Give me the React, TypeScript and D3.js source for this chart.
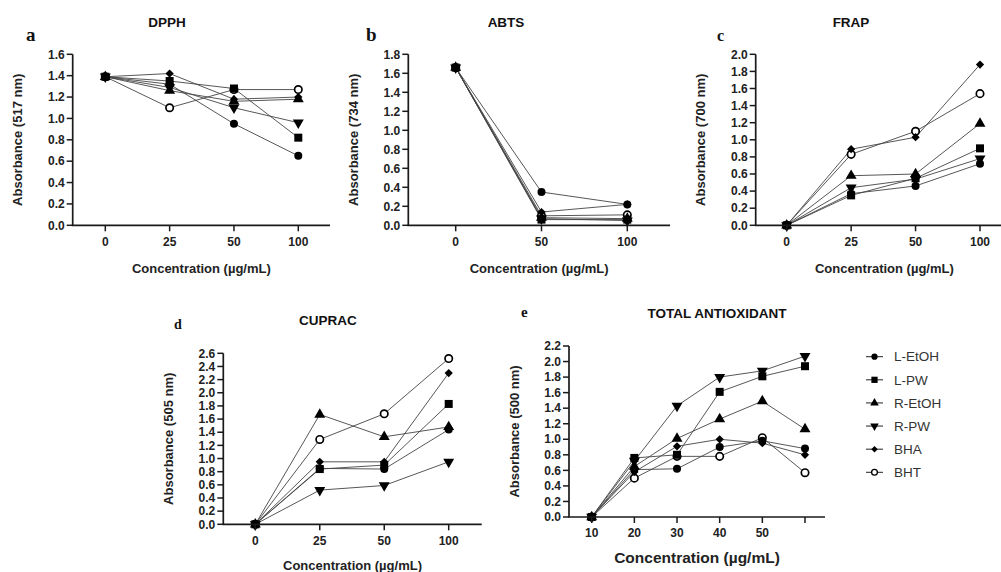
import React from "react";
import * as d3 from "d3";

// series, in the order used for every panel's value table
const seriesNames = ["L-EtOH", "L-PW", "R-EtOH", "R-PW", "BHA", "BHT"];
const seriesShapes = ["circle", "square", "triangle", "triangleDown", "diamond", "openCircle"];

// a: DPPH
const dpphConc = ["0", "25", "50", "100"];
const dpphValues = [
  [1.39, 1.32, 0.95, 0.65],
  [1.39, 1.35, 1.28, 0.82],
  [1.39, 1.26, 1.16, 1.18],
  [1.39, 1.29, 1.1, 0.96],
  [1.39, 1.42, 1.18, 1.2],
  [1.39, 1.1, 1.27, 1.27],
];

// b: ABTS
const abtsConc = ["0", "50", "100"];
const abtsValues = [
  [1.66, 0.35, 0.22],
  [1.66, 0.06, 0.06],
  [1.66, 0.08, 0.07],
  [1.66, 0.07, 0.05],
  [1.66, 0.14, 0.22],
  [1.66, 0.1, 0.11],
];

// c: FRAP
const frapConc = ["0", "25", "50", "100"];
const frapValues = [
  [0, 0.37, 0.46, 0.72],
  [0, 0.35, 0.55, 0.9],
  [0, 0.58, 0.6, 1.19],
  [0, 0.44, 0.54, 0.78],
  [0, 0.89, 1.03, 1.88],
  [0, 0.83, 1.1, 1.54],
];

// d: CUPRAC
const cupracConc = ["0", "25", "50", "100"];
const cupracValues = [
  [0, 0.85, 0.84, 1.44],
  [0, 0.84, 0.9, 1.83],
  [0, 1.67, 1.33, 1.48],
  [0, 0.52, 0.59, 0.95],
  [0, 0.95, 0.95, 2.3],
  [0, 1.29, 1.68, 2.52],
];

// e: total antioxidant (last point has no tick label)
const tacConc = ["10", "20", "30", "40", "50", "60"];
const tacTickLabels = ["10", "20", "30", "40", "50", ""];
const tacValues = [
  [0, 0.61, 0.62, 0.9, 0.98, 0.88],
  [0, 0.76, 0.8, 1.61, 1.81, 1.94],
  [0, 0.65, 1.01, 1.26, 1.49, 1.13],
  [0, 0.72, 1.43, 1.8, 1.88, 2.07],
  [0, 0.58, 0.91, 1.0, 0.95, 0.8],
  [0, 0.5, 0.78, 0.78, 1.02, 0.57],
];

const SANS = "'Liberation Sans', Arial, sans-serif";
const SERIF = "'Liberation Serif', 'Times New Roman', serif";

function Marker({ kind, x, y, k = 1 }) {
  if (kind === "circle") return <circle cx={x} cy={y} r={4 * k} fill="#000" />;
  if (kind === "openCircle")
    return <circle cx={x} cy={y} r={3.7 * k} fill="#fff" stroke="#000" strokeWidth={1.7 * k} />;
  if (kind === "square")
    return <rect x={x - 4 * k} y={y - 4 * k} width={8 * k} height={8 * k} fill="#000" />;
  if (kind === "diamond") {
    // square turned 45 degrees
    const path = d3.symbol(d3.symbolSquare, 34 * k * k)();
    return <path d={path} transform={`translate(${x},${y}) rotate(45)`} fill="#000" />;
  }
  const path = d3.symbol(d3.symbolTriangle, 52 * k * k)();
  const rot = kind === "triangleDown" ? 180 : 0;
  return <path d={path} transform={`translate(${x},${y}) rotate(${rot})`} fill="#000" />;
}

// markers drawn bottom-up so the filled square ends on top at shared points
const drawOrder = [5, 4, 3, 2, 0, 1];

function Panel({ p }) {
  const x = d3.scalePoint().domain(p.cats).range([p.firstX, p.lastX]);
  const y = d3.scaleLinear().domain([0, p.yMax]).range([p.bottom, p.top]);
  const yTicks = d3.range(0, p.yMax + 1e-6, 0.2);
  const line = d3
    .line()
    .x((d, i) => x(p.cats[i]))
    .y((d) => y(d));
  const midX = (p.left + p.right) / 2;
  const midY = (p.top + p.bottom) / 2;
  return (
    <g fontFamily={SANS}>
      <text x={p.titleX} y={p.titleY} textAnchor="middle" fontSize={13.5} fontWeight="bold" fill="#111">
        {p.title}
      </text>
      <text x={p.letterX} y={p.letterY} fontFamily={SERIF} fontSize={p.letterSize} fontWeight="bold" fill="#111">
        {p.letter}
      </text>
      {p.values.map((vals, s) => (
        <path key={s} d={line(vals)} fill="none" stroke="#444" strokeWidth={0.9} />
      ))}
      {drawOrder.map((s) =>
        p.values[s].map((v, i) => (
          <Marker key={s + "-" + i} kind={seriesShapes[s]} x={x(p.cats[i])} y={y(v)} />
        ))
      )}
      <line x1={p.left} x2={p.left} y1={p.top} y2={p.bottom} stroke="#1a1a1a" strokeWidth={1.7} />
      <line x1={p.left - 0.8} x2={p.right} y1={p.bottom} y2={p.bottom} stroke="#1a1a1a" strokeWidth={1.7} />
      {yTicks.map((t) => (
        <g key={t}>
          <line x1={p.left - 6} x2={p.left} y1={y(t)} y2={y(t)} stroke="#1a1a1a" strokeWidth={1.5} />
          <text
            x={p.left - 8}
            y={y(t)}
            dy="0.35em"
            textAnchor="end"
            fontSize={12}
            fontWeight="bold"
            fill="#222"
          >
            {t.toFixed(1)}
          </text>
        </g>
      ))}
      {p.cats.map((c, i) => (
        <g key={c}>
          <line x1={x(c)} x2={x(c)} y1={p.bottom} y2={p.bottom + 6} stroke="#1a1a1a" strokeWidth={1.5} />
          <text x={x(c)} y={p.bottom + 16} dy="0.35em" textAnchor="middle" fontSize={12} fontWeight="bold" fill="#222">
            {p.tickLabels[i]}
          </text>
        </g>
      ))}
      <text x={midX} y={p.bottom + p.xTitleDy} dy="0.35em" textAnchor="middle" fontSize={p.xTitleSize} fontWeight="bold" fill="#222">
        Concentration (µg/mL)
      </text>
      <text
        transform={`translate(${p.left - 55},${midY}) rotate(-90)`}
        dy="0.35em"
        textAnchor="middle"
        fontSize={13}
        fontWeight="bold"
        fill="#222"
      >
        {p.yLabel}
      </text>
    </g>
  );
}

const panels = [
  {
    title: "DPPH", letter: "a", yLabel: "Absorbance (517 nm)", cats: dpphConc, tickLabels: dpphConc,
    values: dpphValues, yMax: 1.6,
    left: 72.7, right: 330, top: 54.3, bottom: 225.3, firstX: 105.3, lastX: 298.3,
    titleX: 167, titleY: 27, letterX: 26, letterY: 41, letterSize: 19, xTitleDy: 43, xTitleSize: 13,
  },
  {
    title: "ABTS", letter: "b", yLabel: "Absorbance (734 nm)", cats: abtsConc, tickLabels: abtsConc,
    values: abtsValues, yMax: 1.8,
    left: 408.3, right: 670, top: 54.3, bottom: 225.3, firstX: 455.7, lastX: 627.3,
    titleX: 506, titleY: 27, letterX: 366, letterY: 41, letterSize: 19, xTitleDy: 43, xTitleSize: 13,
  },
  {
    title: "FRAP", letter: "c", yLabel: "Absorbance (700 nm)", cats: frapConc, tickLabels: frapConc,
    values: frapValues, yMax: 2.0,
    left: 755.7, right: 1013, top: 54.3, bottom: 225.3, firstX: 786.7, lastX: 980,
    titleX: 851, titleY: 27, letterX: 717, letterY: 41, letterSize: 16, xTitleDy: 43, xTitleSize: 13,
  },
  {
    title: "CUPRAC", letter: "d", yLabel: "Absorbance (505 nm)", cats: cupracConc, tickLabels: cupracConc,
    values: cupracValues, yMax: 2.6,
    left: 223.3, right: 481.7, top: 353.3, bottom: 524.3, firstX: 255.3, lastX: 448.7,
    titleX: 328, titleY: 325, letterX: 174, letterY: 329, letterSize: 14, xTitleDy: 41, xTitleSize: 13,
  },
  {
    title: "TOTAL ANTIOXIDANT", letter: "e", yLabel: "Absorbance (500 nm)", cats: tacConc, tickLabels: tacTickLabels,
    values: tacValues, yMax: 2.2,
    left: 569, right: 825, top: 346, bottom: 517, firstX: 591.7, lastX: 805,
    titleX: 717, titleY: 318, letterX: 521, letterY: 317, letterSize: 15, xTitleDy: 41, xTitleSize: 15.5,
  },
];

function Legend() {
  const ly = d3.scalePoint().domain(seriesNames).range([356.7, 472.3]);
  return (
    <g fontFamily={SANS}>
      {seriesNames.map((name, i) => (
        <g key={name}>
          <line x1={866} x2={883} y1={ly(name)} y2={ly(name)} stroke="#222" strokeWidth={1} />
          <Marker kind={seriesShapes[i]} x={874.5} y={ly(name)} k={0.78} />
          <text x={894} y={ly(name)} dy="0.35em" fontSize={13.5} fill="#333">
            {name}
          </text>
        </g>
      ))}
    </g>
  );
}

export default function App() {
  return (
    <svg
      width={1001}
      height={572}
      style={{ position: "absolute", left: 0, top: 0, background: "#fff" }}
    >
      <rect width={1001} height={572} fill="#fff" />
      {panels.map((p) => (
        <Panel key={p.title} p={p} />
      ))}
      <Legend />
    </svg>
  );
}
